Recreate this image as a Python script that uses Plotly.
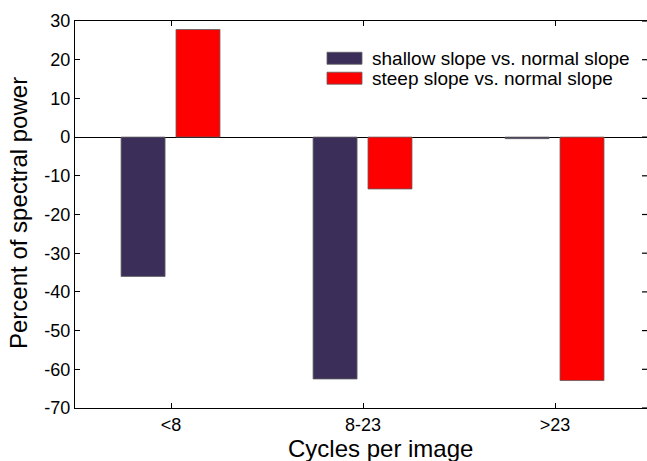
import plotly.graph_objects as go

# Spectral power change per frequency band
categories = ["<8", "8-23", ">23"]
series_names = ["shallow slope vs. normal slope", "steep slope vs. normal slope"]
shallow_vals = [-36.0, -62.5, -0.4]
steep_vals = [27.8, -13.4, -62.9]
y_ticks = [-70, -60, -50, -40, -30, -20, -10, 0, 10, 20, 30]
y_tick_text = [str(v) for v in y_ticks]  # plain hyphen minus signs

W, H = 647, 461
L, R, T, B = 75, 0, 20.7, 52.7
PW, PH = W - L - R, H - T - B
FONT = "Liberation Sans"
colors = ["#3b2f5a", "#ff0000"]
TICKLEN = 5


def px(x):
    return (x - L) / PW


def py(y):
    return (H - B - y) / PH


x_idx = list(range(len(categories)))
bar_w = 0.229
offsets = [-0.26, 0.026]

fig = go.Figure()
for name, vals, col, off in zip(series_names, [shallow_vals, steep_vals], colors, offsets):
    fig.add_trace(go.Bar(
        x=x_idx, y=vals, name=name, width=bar_w, offset=off,
        marker=dict(color=col, line=dict(color="rgb(95,95,95)", width=0.8)),
        showlegend=False,
    ))

fig.update_layout(
    width=W, height=H,
    margin=dict(l=L, r=R, t=T, b=B, pad=0, autoexpand=False),
    paper_bgcolor="white", plot_bgcolor="white",
    font=dict(family=FONT, color="black"),
    barmode="overlay",
    xaxis=dict(
        range=[-0.5, 2.479], tickmode="array", tickvals=x_idx, ticktext=categories,
        showline=True, linecolor="black", linewidth=1.2, mirror="ticks",
        ticks="inside", ticklen=TICKLEN, tickcolor="black", automargin=False,
        showgrid=False, zeroline=False, tickfont=dict(size=18, family=FONT),
    ),
    yaxis=dict(
        range=[-70, 30], tickmode="array", tickvals=y_ticks, ticktext=y_tick_text,
        showline=True, linecolor="black", linewidth=1.2, mirror=False,
        ticks="inside", ticklen=TICKLEN, tickcolor="black", automargin=False,
        showgrid=False, zeroline=True, zerolinecolor="black", zerolinewidth=1.2,
        tickfont=dict(size=18, family=FONT),
    ),
)

annotations = [
    dict(text="Percent of spectral power", x=px(18), y=py(213), xref="paper", yref="paper",
         textangle=-90, showarrow=False, xanchor="center", yanchor="middle",
         font=dict(size=24, family=FONT)),
    dict(text="Cycles per image", x=px(380), y=py(449), xref="paper", yref="paper",
         showarrow=False, xanchor="center", yanchor="middle",
         font=dict(size=24, family=FONT)),
]
shapes = []
# inward ticks along the right edge (the right frame line sits just off-canvas)
for v in y_ticks:
    shapes.append(dict(type="line", xref="paper", yref="y",
                       x0=1 - TICKLEN / PW, x1=1, y0=v, y1=v,
                       line=dict(color="black", width=1.2)))
for i, (name, col) in enumerate(zip(series_names, colors)):
    cy = 58 + 20 * i
    shapes.append(dict(type="rect", xref="paper", yref="paper",
                       x0=px(327), x1=px(362), y0=py(cy - 6), y1=py(cy + 6),
                       fillcolor=col, line=dict(color="rgb(95,95,95)", width=0.8)))
    annotations.append(dict(text=name, x=px(370), y=py(cy), xref="paper", yref="paper",
                            showarrow=False, xanchor="left", yanchor="middle",
                            font=dict(size=19, family=FONT)))
fig.update_layout(annotations=annotations, shapes=shapes)

fig.write_html("out.html")
